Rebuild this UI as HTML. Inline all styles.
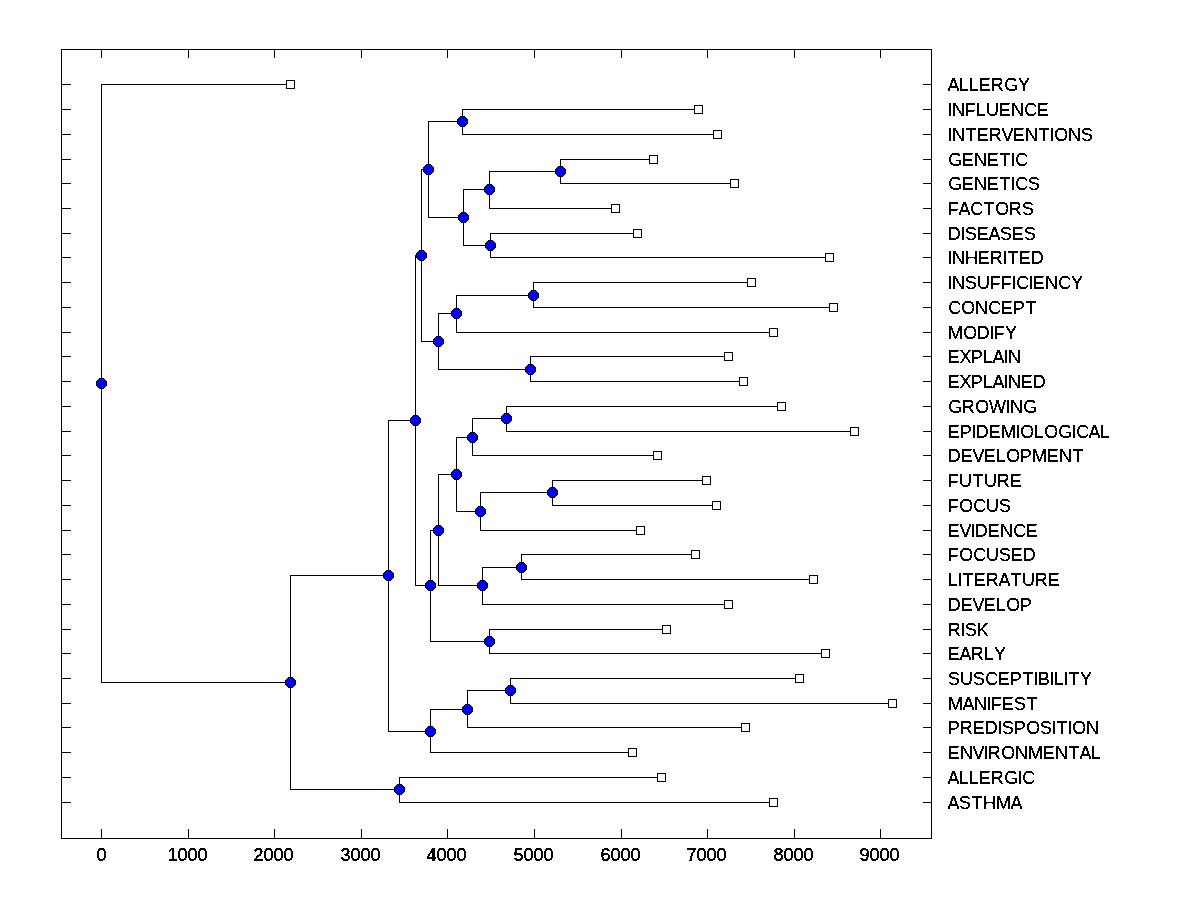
<!DOCTYPE html>
<html><head><meta charset="utf-8"><title>Dendrogram</title>
<style>
html,body{margin:0;padding:0;background:#fff;}
body{width:1200px;height:900px;overflow:hidden;}
svg{display:block;}
text{font-family:"Liberation Sans",sans-serif;font-size:18px;fill:#000;stroke:#000;stroke-width:0.36px;}
.ax text{font-size:18px;stroke-width:0.5px;}
</style></head><body>
<svg width="1200" height="900" viewBox="0 0 1200 900">
<filter id="bw" x="0" y="0" width="1200" height="900" filterUnits="userSpaceOnUse" color-interpolation-filters="sRGB"><feComponentTransfer><feFuncA type="discrete" tableValues="0 0 0 1 1"/></feComponentTransfer></filter>
<rect width="1200" height="900" fill="#fff"/>
<g shape-rendering="crispEdges" fill="#000">

<rect x="61" y="49" width="871" height="1"/>
<rect x="61" y="838" width="871" height="1"/>
<rect x="61" y="49" width="1" height="790"/>
<rect x="931" y="49" width="1" height="790"/>
<rect x="101" y="49" width="1" height="9"/>
<rect x="101" y="829" width="1" height="10"/>
<rect x="188" y="49" width="1" height="9"/>
<rect x="188" y="829" width="1" height="10"/>
<rect x="274" y="49" width="1" height="9"/>
<rect x="274" y="829" width="1" height="10"/>
<rect x="361" y="49" width="1" height="9"/>
<rect x="361" y="829" width="1" height="10"/>
<rect x="447" y="49" width="1" height="9"/>
<rect x="447" y="829" width="1" height="10"/>
<rect x="534" y="49" width="1" height="9"/>
<rect x="534" y="829" width="1" height="10"/>
<rect x="621" y="49" width="1" height="9"/>
<rect x="621" y="829" width="1" height="10"/>
<rect x="707" y="49" width="1" height="9"/>
<rect x="707" y="829" width="1" height="10"/>
<rect x="794" y="49" width="1" height="9"/>
<rect x="794" y="829" width="1" height="10"/>
<rect x="880" y="49" width="1" height="9"/>
<rect x="880" y="829" width="1" height="10"/>
<rect x="61" y="84" width="10" height="1"/>
<rect x="923" y="84" width="9" height="1"/>
<rect x="61" y="109" width="10" height="1"/>
<rect x="923" y="109" width="9" height="1"/>
<rect x="61" y="134" width="10" height="1"/>
<rect x="923" y="134" width="9" height="1"/>
<rect x="61" y="159" width="10" height="1"/>
<rect x="923" y="159" width="9" height="1"/>
<rect x="61" y="183" width="10" height="1"/>
<rect x="923" y="183" width="9" height="1"/>
<rect x="61" y="208" width="10" height="1"/>
<rect x="923" y="208" width="9" height="1"/>
<rect x="61" y="233" width="10" height="1"/>
<rect x="923" y="233" width="9" height="1"/>
<rect x="61" y="257" width="10" height="1"/>
<rect x="923" y="257" width="9" height="1"/>
<rect x="61" y="282" width="10" height="1"/>
<rect x="923" y="282" width="9" height="1"/>
<rect x="61" y="307" width="10" height="1"/>
<rect x="923" y="307" width="9" height="1"/>
<rect x="61" y="332" width="10" height="1"/>
<rect x="923" y="332" width="9" height="1"/>
<rect x="61" y="356" width="10" height="1"/>
<rect x="923" y="356" width="9" height="1"/>
<rect x="61" y="381" width="10" height="1"/>
<rect x="923" y="381" width="9" height="1"/>
<rect x="61" y="406" width="10" height="1"/>
<rect x="923" y="406" width="9" height="1"/>
<rect x="61" y="431" width="10" height="1"/>
<rect x="923" y="431" width="9" height="1"/>
<rect x="61" y="455" width="10" height="1"/>
<rect x="923" y="455" width="9" height="1"/>
<rect x="61" y="480" width="10" height="1"/>
<rect x="923" y="480" width="9" height="1"/>
<rect x="61" y="505" width="10" height="1"/>
<rect x="923" y="505" width="9" height="1"/>
<rect x="61" y="530" width="10" height="1"/>
<rect x="923" y="530" width="9" height="1"/>
<rect x="61" y="554" width="10" height="1"/>
<rect x="923" y="554" width="9" height="1"/>
<rect x="61" y="579" width="10" height="1"/>
<rect x="923" y="579" width="9" height="1"/>
<rect x="61" y="604" width="10" height="1"/>
<rect x="923" y="604" width="9" height="1"/>
<rect x="61" y="629" width="10" height="1"/>
<rect x="923" y="629" width="9" height="1"/>
<rect x="61" y="653" width="10" height="1"/>
<rect x="923" y="653" width="9" height="1"/>
<rect x="61" y="678" width="10" height="1"/>
<rect x="923" y="678" width="9" height="1"/>
<rect x="61" y="703" width="10" height="1"/>
<rect x="923" y="703" width="9" height="1"/>
<rect x="61" y="727" width="10" height="1"/>
<rect x="923" y="727" width="9" height="1"/>
<rect x="61" y="752" width="10" height="1"/>
<rect x="923" y="752" width="9" height="1"/>
<rect x="61" y="777" width="10" height="1"/>
<rect x="923" y="777" width="9" height="1"/>
<rect x="61" y="802" width="10" height="1"/>
<rect x="923" y="802" width="9" height="1"/>
<rect x="462" y="109" width="1" height="26"/>
<rect x="462" y="109" width="237" height="1"/>
<rect x="462" y="134" width="256" height="1"/>
<rect x="560" y="159" width="1" height="25"/>
<rect x="560" y="159" width="94" height="1"/>
<rect x="560" y="183" width="175" height="1"/>
<rect x="489" y="171" width="1" height="38"/>
<rect x="489" y="171" width="72" height="1"/>
<rect x="489" y="208" width="127" height="1"/>
<rect x="490" y="233" width="1" height="25"/>
<rect x="490" y="233" width="148" height="1"/>
<rect x="490" y="257" width="340" height="1"/>
<rect x="463" y="189" width="1" height="57"/>
<rect x="463" y="189" width="27" height="1"/>
<rect x="463" y="245" width="28" height="1"/>
<rect x="428" y="121" width="1" height="97"/>
<rect x="428" y="121" width="35" height="1"/>
<rect x="428" y="217" width="36" height="1"/>
<rect x="533" y="282" width="1" height="26"/>
<rect x="533" y="282" width="219" height="1"/>
<rect x="533" y="307" width="301" height="1"/>
<rect x="456" y="295" width="1" height="38"/>
<rect x="456" y="295" width="78" height="1"/>
<rect x="456" y="332" width="318" height="1"/>
<rect x="530" y="356" width="1" height="26"/>
<rect x="530" y="356" width="199" height="1"/>
<rect x="530" y="381" width="214" height="1"/>
<rect x="438" y="313" width="1" height="57"/>
<rect x="438" y="313" width="19" height="1"/>
<rect x="438" y="369" width="93" height="1"/>
<rect x="421" y="169" width="1" height="173"/>
<rect x="421" y="169" width="8" height="1"/>
<rect x="421" y="341" width="18" height="1"/>
<rect x="506" y="406" width="1" height="26"/>
<rect x="506" y="406" width="276" height="1"/>
<rect x="506" y="431" width="349" height="1"/>
<rect x="472" y="418" width="1" height="38"/>
<rect x="472" y="418" width="35" height="1"/>
<rect x="472" y="455" width="186" height="1"/>
<rect x="552" y="480" width="1" height="26"/>
<rect x="552" y="480" width="155" height="1"/>
<rect x="552" y="505" width="165" height="1"/>
<rect x="480" y="492" width="1" height="39"/>
<rect x="480" y="492" width="73" height="1"/>
<rect x="480" y="530" width="161" height="1"/>
<rect x="456" y="437" width="1" height="75"/>
<rect x="456" y="437" width="17" height="1"/>
<rect x="456" y="511" width="25" height="1"/>
<rect x="521" y="554" width="1" height="26"/>
<rect x="521" y="554" width="175" height="1"/>
<rect x="521" y="579" width="293" height="1"/>
<rect x="482" y="567" width="1" height="38"/>
<rect x="482" y="567" width="40" height="1"/>
<rect x="482" y="604" width="247" height="1"/>
<rect x="438" y="474" width="1" height="112"/>
<rect x="438" y="474" width="19" height="1"/>
<rect x="438" y="585" width="45" height="1"/>
<rect x="489" y="629" width="1" height="25"/>
<rect x="489" y="629" width="178" height="1"/>
<rect x="489" y="653" width="337" height="1"/>
<rect x="430" y="530" width="1" height="112"/>
<rect x="430" y="530" width="9" height="1"/>
<rect x="430" y="641" width="60" height="1"/>
<rect x="415" y="255" width="1" height="331"/>
<rect x="415" y="255" width="7" height="1"/>
<rect x="415" y="585" width="16" height="1"/>
<rect x="510" y="678" width="1" height="26"/>
<rect x="510" y="678" width="290" height="1"/>
<rect x="510" y="703" width="383" height="1"/>
<rect x="467" y="690" width="1" height="38"/>
<rect x="467" y="690" width="44" height="1"/>
<rect x="467" y="727" width="279" height="1"/>
<rect x="430" y="709" width="1" height="44"/>
<rect x="430" y="709" width="38" height="1"/>
<rect x="430" y="752" width="203" height="1"/>
<rect x="388" y="420" width="1" height="312"/>
<rect x="388" y="420" width="28" height="1"/>
<rect x="388" y="731" width="43" height="1"/>
<rect x="399" y="777" width="1" height="26"/>
<rect x="399" y="777" width="263" height="1"/>
<rect x="399" y="802" width="375" height="1"/>
<rect x="290" y="575" width="1" height="215"/>
<rect x="290" y="575" width="99" height="1"/>
<rect x="290" y="789" width="110" height="1"/>
<rect x="101" y="84" width="1" height="599"/>
<rect x="101" y="84" width="190" height="1"/>
<rect x="101" y="682" width="190" height="1"/>
</g>
<g shape-rendering="crispEdges">
<rect x="286" y="80" width="9" height="9" fill="#000"/><rect x="287" y="81" width="7" height="7" fill="#fff"/>
<rect x="694" y="105" width="9" height="9" fill="#000"/><rect x="695" y="106" width="7" height="7" fill="#fff"/>
<rect x="713" y="130" width="9" height="9" fill="#000"/><rect x="714" y="131" width="7" height="7" fill="#fff"/>
<rect x="649" y="155" width="9" height="9" fill="#000"/><rect x="650" y="156" width="7" height="7" fill="#fff"/>
<rect x="730" y="179" width="9" height="9" fill="#000"/><rect x="731" y="180" width="7" height="7" fill="#fff"/>
<rect x="611" y="204" width="9" height="9" fill="#000"/><rect x="612" y="205" width="7" height="7" fill="#fff"/>
<rect x="633" y="229" width="9" height="9" fill="#000"/><rect x="634" y="230" width="7" height="7" fill="#fff"/>
<rect x="825" y="253" width="9" height="9" fill="#000"/><rect x="826" y="254" width="7" height="7" fill="#fff"/>
<rect x="747" y="278" width="9" height="9" fill="#000"/><rect x="748" y="279" width="7" height="7" fill="#fff"/>
<rect x="829" y="303" width="9" height="9" fill="#000"/><rect x="830" y="304" width="7" height="7" fill="#fff"/>
<rect x="769" y="328" width="9" height="9" fill="#000"/><rect x="770" y="329" width="7" height="7" fill="#fff"/>
<rect x="724" y="352" width="9" height="9" fill="#000"/><rect x="725" y="353" width="7" height="7" fill="#fff"/>
<rect x="739" y="377" width="9" height="9" fill="#000"/><rect x="740" y="378" width="7" height="7" fill="#fff"/>
<rect x="777" y="402" width="9" height="9" fill="#000"/><rect x="778" y="403" width="7" height="7" fill="#fff"/>
<rect x="850" y="427" width="9" height="9" fill="#000"/><rect x="851" y="428" width="7" height="7" fill="#fff"/>
<rect x="653" y="451" width="9" height="9" fill="#000"/><rect x="654" y="452" width="7" height="7" fill="#fff"/>
<rect x="702" y="476" width="9" height="9" fill="#000"/><rect x="703" y="477" width="7" height="7" fill="#fff"/>
<rect x="712" y="501" width="9" height="9" fill="#000"/><rect x="713" y="502" width="7" height="7" fill="#fff"/>
<rect x="636" y="526" width="9" height="9" fill="#000"/><rect x="637" y="527" width="7" height="7" fill="#fff"/>
<rect x="691" y="550" width="9" height="9" fill="#000"/><rect x="692" y="551" width="7" height="7" fill="#fff"/>
<rect x="809" y="575" width="9" height="9" fill="#000"/><rect x="810" y="576" width="7" height="7" fill="#fff"/>
<rect x="724" y="600" width="9" height="9" fill="#000"/><rect x="725" y="601" width="7" height="7" fill="#fff"/>
<rect x="662" y="625" width="9" height="9" fill="#000"/><rect x="663" y="626" width="7" height="7" fill="#fff"/>
<rect x="821" y="649" width="9" height="9" fill="#000"/><rect x="822" y="650" width="7" height="7" fill="#fff"/>
<rect x="795" y="674" width="9" height="9" fill="#000"/><rect x="796" y="675" width="7" height="7" fill="#fff"/>
<rect x="888" y="699" width="9" height="9" fill="#000"/><rect x="889" y="700" width="7" height="7" fill="#fff"/>
<rect x="741" y="723" width="9" height="9" fill="#000"/><rect x="742" y="724" width="7" height="7" fill="#fff"/>
<rect x="628" y="748" width="9" height="9" fill="#000"/><rect x="629" y="749" width="7" height="7" fill="#fff"/>
<rect x="657" y="773" width="9" height="9" fill="#000"/><rect x="658" y="774" width="7" height="7" fill="#fff"/>
<rect x="769" y="798" width="9" height="9" fill="#000"/><rect x="770" y="799" width="7" height="7" fill="#fff"/>
</g>
<g shape-rendering="crispEdges">
<path fill="#000" d="M460,116h5v1h1v1h1v1h1v5h-1v1h-1v1h-1v1h-5v-1h-1v-1h-1v-1h-1v-5h1v-1h1v-1h1z"/><path fill="#00f" d="M460,117h5v1h1v1h1v5h-1v1h-1v1h-5v-1h-1v-1h-1v-5h1v-1h1z"/>
<path fill="#000" d="M558,166h5v1h1v1h1v1h1v5h-1v1h-1v1h-1v1h-5v-1h-1v-1h-1v-1h-1v-5h1v-1h1v-1h1z"/><path fill="#00f" d="M558,167h5v1h1v1h1v5h-1v1h-1v1h-5v-1h-1v-1h-1v-5h1v-1h1z"/>
<path fill="#000" d="M487,184h5v1h1v1h1v1h1v5h-1v1h-1v1h-1v1h-5v-1h-1v-1h-1v-1h-1v-5h1v-1h1v-1h1z"/><path fill="#00f" d="M487,185h5v1h1v1h1v5h-1v1h-1v1h-5v-1h-1v-1h-1v-5h1v-1h1z"/>
<path fill="#000" d="M488,240h5v1h1v1h1v1h1v5h-1v1h-1v1h-1v1h-5v-1h-1v-1h-1v-1h-1v-5h1v-1h1v-1h1z"/><path fill="#00f" d="M488,241h5v1h1v1h1v5h-1v1h-1v1h-5v-1h-1v-1h-1v-5h1v-1h1z"/>
<path fill="#000" d="M461,212h5v1h1v1h1v1h1v5h-1v1h-1v1h-1v1h-5v-1h-1v-1h-1v-1h-1v-5h1v-1h1v-1h1z"/><path fill="#00f" d="M461,213h5v1h1v1h1v5h-1v1h-1v1h-5v-1h-1v-1h-1v-5h1v-1h1z"/>
<path fill="#000" d="M426,164h5v1h1v1h1v1h1v5h-1v1h-1v1h-1v1h-5v-1h-1v-1h-1v-1h-1v-5h1v-1h1v-1h1z"/><path fill="#00f" d="M426,165h5v1h1v1h1v5h-1v1h-1v1h-5v-1h-1v-1h-1v-5h1v-1h1z"/>
<path fill="#000" d="M531,290h5v1h1v1h1v1h1v5h-1v1h-1v1h-1v1h-5v-1h-1v-1h-1v-1h-1v-5h1v-1h1v-1h1z"/><path fill="#00f" d="M531,291h5v1h1v1h1v5h-1v1h-1v1h-5v-1h-1v-1h-1v-5h1v-1h1z"/>
<path fill="#000" d="M454,308h5v1h1v1h1v1h1v5h-1v1h-1v1h-1v1h-5v-1h-1v-1h-1v-1h-1v-5h1v-1h1v-1h1z"/><path fill="#00f" d="M454,309h5v1h1v1h1v5h-1v1h-1v1h-5v-1h-1v-1h-1v-5h1v-1h1z"/>
<path fill="#000" d="M528,364h5v1h1v1h1v1h1v5h-1v1h-1v1h-1v1h-5v-1h-1v-1h-1v-1h-1v-5h1v-1h1v-1h1z"/><path fill="#00f" d="M528,365h5v1h1v1h1v5h-1v1h-1v1h-5v-1h-1v-1h-1v-5h1v-1h1z"/>
<path fill="#000" d="M436,336h5v1h1v1h1v1h1v5h-1v1h-1v1h-1v1h-5v-1h-1v-1h-1v-1h-1v-5h1v-1h1v-1h1z"/><path fill="#00f" d="M436,337h5v1h1v1h1v5h-1v1h-1v1h-5v-1h-1v-1h-1v-5h1v-1h1z"/>
<path fill="#000" d="M419,250h5v1h1v1h1v1h1v5h-1v1h-1v1h-1v1h-5v-1h-1v-1h-1v-1h-1v-5h1v-1h1v-1h1z"/><path fill="#00f" d="M419,251h5v1h1v1h1v5h-1v1h-1v1h-5v-1h-1v-1h-1v-5h1v-1h1z"/>
<path fill="#000" d="M504,413h5v1h1v1h1v1h1v5h-1v1h-1v1h-1v1h-5v-1h-1v-1h-1v-1h-1v-5h1v-1h1v-1h1z"/><path fill="#00f" d="M504,414h5v1h1v1h1v5h-1v1h-1v1h-5v-1h-1v-1h-1v-5h1v-1h1z"/>
<path fill="#000" d="M470,432h5v1h1v1h1v1h1v5h-1v1h-1v1h-1v1h-5v-1h-1v-1h-1v-1h-1v-5h1v-1h1v-1h1z"/><path fill="#00f" d="M470,433h5v1h1v1h1v5h-1v1h-1v1h-5v-1h-1v-1h-1v-5h1v-1h1z"/>
<path fill="#000" d="M550,487h5v1h1v1h1v1h1v5h-1v1h-1v1h-1v1h-5v-1h-1v-1h-1v-1h-1v-5h1v-1h1v-1h1z"/><path fill="#00f" d="M550,488h5v1h1v1h1v5h-1v1h-1v1h-5v-1h-1v-1h-1v-5h1v-1h1z"/>
<path fill="#000" d="M478,506h5v1h1v1h1v1h1v5h-1v1h-1v1h-1v1h-5v-1h-1v-1h-1v-1h-1v-5h1v-1h1v-1h1z"/><path fill="#00f" d="M478,507h5v1h1v1h1v5h-1v1h-1v1h-5v-1h-1v-1h-1v-5h1v-1h1z"/>
<path fill="#000" d="M454,469h5v1h1v1h1v1h1v5h-1v1h-1v1h-1v1h-5v-1h-1v-1h-1v-1h-1v-5h1v-1h1v-1h1z"/><path fill="#00f" d="M454,470h5v1h1v1h1v5h-1v1h-1v1h-5v-1h-1v-1h-1v-5h1v-1h1z"/>
<path fill="#000" d="M519,562h5v1h1v1h1v1h1v5h-1v1h-1v1h-1v1h-5v-1h-1v-1h-1v-1h-1v-5h1v-1h1v-1h1z"/><path fill="#00f" d="M519,563h5v1h1v1h1v5h-1v1h-1v1h-5v-1h-1v-1h-1v-5h1v-1h1z"/>
<path fill="#000" d="M480,580h5v1h1v1h1v1h1v5h-1v1h-1v1h-1v1h-5v-1h-1v-1h-1v-1h-1v-5h1v-1h1v-1h1z"/><path fill="#00f" d="M480,581h5v1h1v1h1v5h-1v1h-1v1h-5v-1h-1v-1h-1v-5h1v-1h1z"/>
<path fill="#000" d="M436,525h5v1h1v1h1v1h1v5h-1v1h-1v1h-1v1h-5v-1h-1v-1h-1v-1h-1v-5h1v-1h1v-1h1z"/><path fill="#00f" d="M436,526h5v1h1v1h1v5h-1v1h-1v1h-5v-1h-1v-1h-1v-5h1v-1h1z"/>
<path fill="#000" d="M487,636h5v1h1v1h1v1h1v5h-1v1h-1v1h-1v1h-5v-1h-1v-1h-1v-1h-1v-5h1v-1h1v-1h1z"/><path fill="#00f" d="M487,637h5v1h1v1h1v5h-1v1h-1v1h-5v-1h-1v-1h-1v-5h1v-1h1z"/>
<path fill="#000" d="M428,580h5v1h1v1h1v1h1v5h-1v1h-1v1h-1v1h-5v-1h-1v-1h-1v-1h-1v-5h1v-1h1v-1h1z"/><path fill="#00f" d="M428,581h5v1h1v1h1v5h-1v1h-1v1h-5v-1h-1v-1h-1v-5h1v-1h1z"/>
<path fill="#000" d="M413,415h5v1h1v1h1v1h1v5h-1v1h-1v1h-1v1h-5v-1h-1v-1h-1v-1h-1v-5h1v-1h1v-1h1z"/><path fill="#00f" d="M413,416h5v1h1v1h1v5h-1v1h-1v1h-5v-1h-1v-1h-1v-5h1v-1h1z"/>
<path fill="#000" d="M508,685h5v1h1v1h1v1h1v5h-1v1h-1v1h-1v1h-5v-1h-1v-1h-1v-1h-1v-5h1v-1h1v-1h1z"/><path fill="#00f" d="M508,686h5v1h1v1h1v5h-1v1h-1v1h-5v-1h-1v-1h-1v-5h1v-1h1z"/>
<path fill="#000" d="M465,704h5v1h1v1h1v1h1v5h-1v1h-1v1h-1v1h-5v-1h-1v-1h-1v-1h-1v-5h1v-1h1v-1h1z"/><path fill="#00f" d="M465,705h5v1h1v1h1v5h-1v1h-1v1h-5v-1h-1v-1h-1v-5h1v-1h1z"/>
<path fill="#000" d="M428,726h5v1h1v1h1v1h1v5h-1v1h-1v1h-1v1h-5v-1h-1v-1h-1v-1h-1v-5h1v-1h1v-1h1z"/><path fill="#00f" d="M428,727h5v1h1v1h1v5h-1v1h-1v1h-5v-1h-1v-1h-1v-5h1v-1h1z"/>
<path fill="#000" d="M386,570h5v1h1v1h1v1h1v5h-1v1h-1v1h-1v1h-5v-1h-1v-1h-1v-1h-1v-5h1v-1h1v-1h1z"/><path fill="#00f" d="M386,571h5v1h1v1h1v5h-1v1h-1v1h-5v-1h-1v-1h-1v-5h1v-1h1z"/>
<path fill="#000" d="M397,784h5v1h1v1h1v1h1v5h-1v1h-1v1h-1v1h-5v-1h-1v-1h-1v-1h-1v-5h1v-1h1v-1h1z"/><path fill="#00f" d="M397,785h5v1h1v1h1v5h-1v1h-1v1h-5v-1h-1v-1h-1v-5h1v-1h1z"/>
<path fill="#000" d="M288,677h5v1h1v1h1v1h1v5h-1v1h-1v1h-1v1h-5v-1h-1v-1h-1v-1h-1v-5h1v-1h1v-1h1z"/><path fill="#00f" d="M288,678h5v1h1v1h1v5h-1v1h-1v1h-5v-1h-1v-1h-1v-5h1v-1h1z"/>
<path fill="#000" d="M99,378h5v1h1v1h1v1h1v5h-1v1h-1v1h-1v1h-5v-1h-1v-1h-1v-1h-1v-5h1v-1h1v-1h1z"/><path fill="#00f" d="M99,379h5v1h1v1h1v5h-1v1h-1v1h-5v-1h-1v-1h-1v-5h1v-1h1z"/>
</g>
<g class="lab" filter="url(#bw)">
<text x="947.50 958.70 968.70 978.70 990.70 1004.27 1018.00" y="91">ALLERGY</text>
<text x="947.52 952.00 964.70 975.70 986.00 998.70 1011.00 1024.27 1036.70" y="116">INFLUENCE</text>
<text x="947.52 952.00 965.50 976.70 988.70 1001.50 1012.70 1025.00 1038.50 1049.52 1054.33 1068.00 1081.00" y="141">INTERVENTIONS</text>
<text x="948.27 961.70 974.00 986.70 999.50 1010.52 1015.27" y="166">GENETIC</text>
<text x="948.27 961.70 974.00 986.70 999.50 1010.52 1015.27 1028.00" y="190">GENETICS</text>
<text x="947.70 958.50 970.27 983.50 995.33 1008.70 1022.00" y="215">FACTORS</text>
<text x="947.70 960.52 965.00 976.70 988.50 1000.00 1011.70 1024.00" y="240">DISEASES</text>
<text x="947.52 952.00 965.00 977.70 989.70 1002.52 1007.50 1018.70 1030.70" y="264">INHERITED</text>
<text x="947.52 952.00 965.00 977.00 989.70 1000.70 1011.52 1016.27 1028.52 1032.70 1045.00 1058.27 1071.00" y="289">INSUFFICIENCY</text>
<text x="948.27 961.33 975.00 988.27 1000.70 1012.70 1025.50" y="314">CONCEPT</text>
<text x="948.00 963.33 976.70 989.52 993.70 1005.00" y="339">MODIFY</text>
<text x="947.70 959.50 970.70 982.70 992.50 1003.52 1008.00" y="363">EXPLAIN</text>
<text x="947.70 959.50 970.70 982.70 992.50 1003.52 1008.00 1020.70 1032.70" y="388">EXPLAINED</text>
<text x="948.27 961.70 975.33 989.00 1005.52 1010.00 1023.27" y="413">GROWING</text>
<text x="947.70 959.70 971.52 975.70 988.70 1001.00 1015.52 1020.33 1033.70 1044.33 1058.27 1071.52 1076.27 1088.50 1099.70" y="438">EPIDEMIOLOGICAL</text>
<text x="947.70 960.70 972.50 983.70 995.70 1006.33 1019.70 1032.00 1046.70 1059.00 1072.50" y="462">DEVELOPMENT</text>
<text x="947.70 959.00 972.50 984.00 996.70 1009.70" y="487">FUTURE</text>
<text x="947.70 959.33 973.27 986.00 999.00" y="512">FOCUS</text>
<text x="947.70 959.50 970.52 974.70 987.70 1000.00 1013.27 1025.70" y="537">EVIDENCE</text>
<text x="947.70 959.33 973.27 986.00 999.00 1010.70 1022.70" y="561">FOCUSED</text>
<text x="947.70 957.52 962.50 973.70 985.70 998.50 1010.50 1022.00 1034.70 1047.70" y="586">LITERATURE</text>
<text x="947.70 960.70 972.50 983.70 995.70 1006.33 1019.70" y="611">DEVELOP</text>
<text x="947.70 960.52 965.00 976.70" y="636">RISK</text>
<text x="947.70 959.50 970.70 983.70 994.00" y="660">EARLY</text>
<text x="948.00 960.00 973.00 985.27 997.70 1009.70 1022.50 1033.52 1037.70 1049.52 1053.70 1063.52 1068.50 1080.00" y="685">SUSCEPTIBILITY</text>
<text x="948.00 962.50 974.00 986.52 990.70 1001.70 1014.00 1026.50" y="710">MANIFEST</text>
<text x="947.70 959.70 972.70 984.70 997.52 1002.00 1013.70 1026.33 1040.00 1051.52 1056.50 1067.52 1072.33 1086.00" y="734">PREDISPOSITION</text>
<text x="947.70 960.00 972.50 983.52 987.70 1001.33 1015.00 1028.00 1042.70 1055.00 1068.50 1079.50 1090.70" y="759">ENVIRONMENTAL</text>
<text x="947.50 958.70 968.70 978.70 990.70 1004.27 1017.52 1022.27" y="784">ALLERGIC</text>
<text x="947.50 959.00 971.50 983.00 996.00 1010.50" y="809">ASTHMA</text>
</g>
<g class="ax" filter="url(#bw)">
<text x="96.55" y="861">0</text>
<text x="167.55 177.55 187.55 197.55" y="861">1000</text>
<text x="253.55 263.55 273.55 283.55" y="861">2000</text>
<text x="340.55 350.55 360.55 370.55" y="861">3000</text>
<text x="426.55 436.55 446.55 456.55" y="861">4000</text>
<text x="513.55 523.55 533.55 543.55" y="861">5000</text>
<text x="600.55 610.55 620.55 630.55" y="861">6000</text>
<text x="686.55 696.55 706.55 716.55" y="861">7000</text>
<text x="773.55 783.55 793.55 803.55" y="861">8000</text>
<text x="859.55 869.55 879.55 889.55" y="861">9000</text>
</g>
</svg>
</body></html>
